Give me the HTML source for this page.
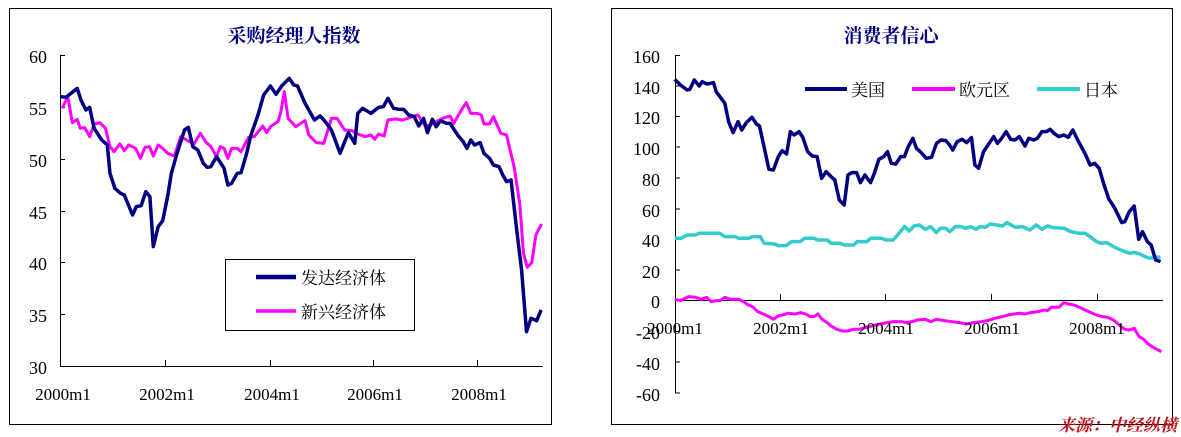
<!DOCTYPE html>
<html><head><meta charset="utf-8"><style>
body{margin:0;background:#fff;}
svg{display:block;}
text{font-family:"Liberation Serif","Noto Serif CJK SC",serif;}
</style></head><body>
<svg width="1181" height="437" viewBox="0 0 1181 437" xmlns="http://www.w3.org/2000/svg">
<rect x="0" y="0" width="1181" height="437" fill="#fff"/>
<!-- Left panel -->
<rect x="9.5" y="8.5" width="542" height="416" fill="none" stroke="#000" stroke-width="1"/>
<text x="294" y="42" text-anchor="middle" font-size="19" fill="#000080" font-weight="bold" font-family="Noto Serif CJK SC,serif">采购经理人指数</text>
<g stroke="#000" stroke-width="1" fill="none">
<path d="M60.5 55 V366.5 H543"/>
<path d="M60 55.5 H65 M60 107.5 H65 M60 159.5 H65 M60 211.5 H65 M60 262.5 H65 M60 314.5 H65"/>
<path d="M165.5 366 V360 M270.5 366 V360 M373.5 366 V360 M477.5 366 V360"/>
</g>
<g font-size="18" fill="#000" text-anchor="end">
<text x="47" y="63">60</text><text x="47" y="115">55</text><text x="47" y="167">50</text>
<text x="47" y="219">45</text><text x="47" y="270">40</text><text x="47" y="322">35</text><text x="47" y="374">30</text>
</g>
<g font-size="17" fill="#000" text-anchor="middle">
<text x="63" y="400">2000m1</text><text x="167" y="400">2002m1</text><text x="272" y="400">2004m1</text>
<text x="375" y="400">2006m1</text><text x="479" y="400">2008m1</text>
</g>
<g transform="scale(0.3766,0.3333)" fill="none" stroke-linejoin="round">
<polyline vector-effect="non-scaling-stroke" stroke="#ff00ff" stroke-width="3" points="165,325 180,290 192,368 205,358 213,385 225,383 238,410 250,372 265,368 280,385 292,440 303,455 318,432 330,452 342,435 360,445 373,475 385,442 397,440 407,468 420,435 432,445 445,460 463,468 480,410 495,420 515,432 532,400 548,428 560,440 575,470 585,440 595,445 605,475 615,445 630,445 640,455 660,412 675,410 698,378 708,398 720,378 738,365 745,340 755,275 765,355 785,380 810,362 820,405 840,428 860,430 880,355 895,355 915,390 935,392 950,402 970,410 985,405 995,418 1005,402 1020,408 1030,360 1050,357 1070,360 1090,352 1110,345 1130,380 1150,370 1175,355 1195,348 1205,370 1225,330 1238,308 1250,340 1268,340 1278,345 1285,372 1300,372 1310,350 1330,400 1345,405 1365,500 1380,610 1390,760 1400,802 1412,788 1423,705 1438,672"/>
<polyline vector-effect="non-scaling-stroke" stroke="#000080" stroke-width="3.5" points="160,290 175,292 205,265 215,300 228,330 238,322 250,385 270,420 285,435 292,520 305,565 320,580 330,585 352,645 362,620 375,617 387,575 398,590 407,740 420,680 432,662 445,590 455,520 470,460 490,390 500,382 512,440 525,450 540,490 550,502 560,500 575,470 595,505 605,555 615,550 630,520 640,518 655,460 665,410 685,345 700,285 718,258 733,283 748,258 768,235 780,255 790,258 810,310 835,360 850,348 860,360 880,390 903,460 925,398 942,430 950,340 963,325 985,340 1005,322 1018,320 1030,295 1045,325 1060,328 1072,328 1085,345 1100,350 1112,378 1125,355 1135,398 1148,358 1158,380 1170,362 1185,370 1195,370 1215,405 1230,425 1240,445 1250,420 1260,435 1275,428 1285,460 1300,475 1310,495 1325,500 1335,525 1345,545 1357,540 1372,690 1385,810 1398,995 1410,955 1425,962 1437,930"/>
</g>
<rect x="225.5" y="259.5" width="189" height="71" fill="#fff" stroke="#000" stroke-width="1"/>
<line x1="256" y1="277" x2="296" y2="277" stroke="#000080" stroke-width="4.5"/>
<line x1="256" y1="311" x2="296" y2="311" stroke="#ff00ff" stroke-width="3.5"/>
<g font-size="17" fill="#000"><text x="301" y="284">发达经济体</text><text x="301" y="318">新兴经济体</text></g>

<!-- Right panel -->
<rect x="611.5" y="8.5" width="561" height="416" fill="none" stroke="#000" stroke-width="1"/>
<text x="891" y="42" text-anchor="middle" font-size="19" fill="#000080" font-weight="bold" font-family="Noto Serif CJK SC,serif">消费者信心</text>
<g stroke="#000" stroke-width="1" fill="none">
<path d="M675.5 55 V393"/>
<path d="M675 55.5 H680 M675 86 H680 M675 116.5 H680 M675 147 H680 M675 178 H680 M675 209 H680 M675 239.5 H680 M675 270 H680 M675 331.5 H680 M675 362 H680 M675 393 H680"/>
<path d="M675 300.5 H1163"/>
<path d="M780.5 300 V294 M885.5 300 V294 M991.5 300 V294 M1097.5 300 V294"/>
</g>
<g font-size="18" fill="#000" text-anchor="end">
<text x="660" y="63">160</text><text x="660" y="94">140</text><text x="660" y="124">120</text>
<text x="660" y="155">100</text><text x="660" y="186">80</text><text x="660" y="217">60</text>
<text x="660" y="247">40</text><text x="660" y="278">20</text><text x="660" y="308">0</text>
<text x="660" y="339">-20</text><text x="660" y="370">-40</text><text x="660" y="401">-60</text>
</g>
<g transform="translate(590,0) scale(0.3766,0.3333)" fill="none" stroke-linejoin="round">
<polyline vector-effect="non-scaling-stroke" stroke="#ff00ff" stroke-width="3" points="225,898 240,902 262,890 280,892 295,898 310,892 322,905 335,902 345,902 358,892 372,898 395,898 408,905 420,915 432,920 445,935 460,942 475,950 487,958 500,948 512,945 525,940 545,942 560,938 572,942 585,950 595,950 605,942 618,960 630,968 640,978 655,988 670,993 685,993 700,988 715,988 730,983 748,978 770,972 790,968 805,965 825,965 840,968 855,965 870,960 890,958 905,965 920,958 940,962 960,965 980,968 1000,972 1020,968 1040,965 1055,962 1075,955 1095,950 1110,945 1125,942 1140,940 1155,942 1170,938 1190,935 1205,930 1215,932 1225,922 1245,922 1258,908 1270,912 1285,915 1300,922 1315,930 1330,938 1345,945 1360,950 1375,952 1390,960 1400,970 1410,980 1420,988 1432,990 1445,985 1458,1010 1470,1018 1480,1030 1495,1042 1517,1055"/>
<polyline vector-effect="non-scaling-stroke" stroke="#33cccc" stroke-width="3.5" points="225,715 242,715 258,705 280,705 290,700 345,700 358,710 385,710 395,715 420,715 432,710 452,710 462,730 490,732 500,737 520,737 535,725 558,725 570,715 595,715 605,720 630,720 640,730 665,730 675,735 700,735 710,725 735,725 745,715 775,715 785,720 805,720 822,698 835,680 848,693 860,678 875,675 890,688 905,680 920,698 930,685 945,685 955,695 970,680 985,680 998,685 1010,680 1025,688 1035,680 1050,682 1063,672 1080,675 1095,678 1107,668 1118,675 1130,682 1148,680 1168,690 1185,675 1200,688 1215,678 1230,683 1260,685 1275,695 1300,700 1315,700 1330,712 1345,725 1358,730 1372,728 1390,740 1405,748 1420,755 1435,760 1445,757 1460,762 1470,768 1485,775 1500,772 1515,772"/>
<polyline vector-effect="non-scaling-stroke" stroke="#000080" stroke-width="3.5" points="225,238 240,255 258,270 265,268 277,240 290,258 298,245 310,252 320,250 328,248 335,275 345,290 358,310 368,365 380,398 393,365 403,390 415,368 430,352 442,372 450,378 462,440 475,508 487,510 500,470 510,452 522,462 532,395 542,405 555,395 565,412 578,455 590,468 603,470 615,535 627,515 640,530 650,540 662,600 675,615 685,525 695,518 708,518 718,548 730,525 745,548 755,520 767,478 780,470 790,455 800,490 812,492 825,470 835,470 845,440 857,415 867,445 877,455 893,475 907,472 920,430 932,420 945,422 955,435 963,450 975,425 988,418 1000,428 1013,413 1022,495 1032,505 1045,455 1060,430 1072,410 1082,430 1093,415 1105,395 1117,418 1128,420 1140,410 1155,438 1165,415 1178,420 1188,415 1200,395 1212,395 1222,388 1232,400 1245,410 1258,405 1270,412 1282,390 1295,420 1315,462 1328,495 1340,490 1352,505 1365,555 1378,598 1390,618 1400,640 1412,668 1420,665 1432,635 1445,618 1457,718 1467,695 1480,725 1490,735 1502,780 1515,785"/>
</g>
<g font-size="17" fill="#000" text-anchor="middle">
<text x="675" y="334">2000m1</text><text x="781" y="334">2002m1</text><text x="886" y="334">2004m1</text>
<text x="992" y="334">2006m1</text><text x="1097" y="334">2008m1</text>
</g>
<line x1="805" y1="89" x2="847" y2="89" stroke="#000080" stroke-width="4"/>
<line x1="912" y1="89" x2="955" y2="89" stroke="#ff00ff" stroke-width="4"/>
<line x1="1037" y1="89" x2="1080" y2="89" stroke="#33cccc" stroke-width="4"/>
<g font-size="17" fill="#000"><text x="851" y="96">美国</text><text x="959" y="96">欧元区</text><text x="1084" y="96">日本</text></g>
<text x="1058" y="431" font-size="17" font-weight="bold" font-style="italic" fill="#c0141e" font-family="Noto Sans CJK SC,sans-serif">来源：中经纵横</text>
</svg>
</body></html>
